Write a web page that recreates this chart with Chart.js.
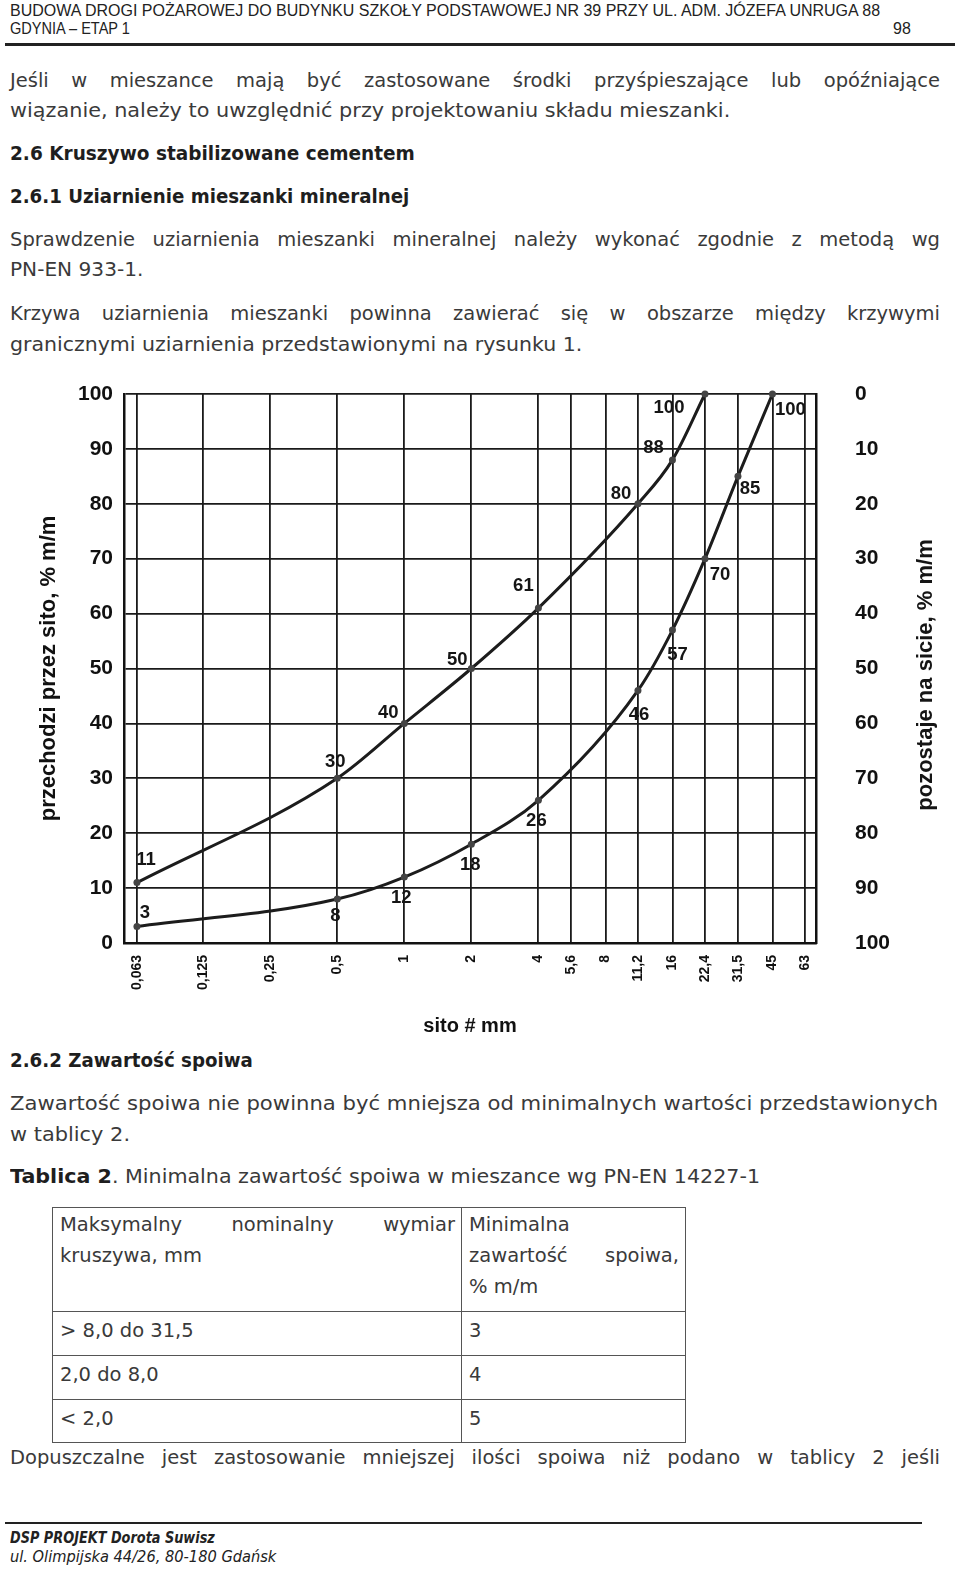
<!DOCTYPE html>
<html lang="pl">
<head>
<meta charset="utf-8">
<title>Krzywe graniczne uziarnienia</title>
<script src="https://cdn.jsdelivr.net/npm/chart.js@4.4.1/dist/chart.umd.min.js"></script>
<style>
html, body { margin: 0; padding: 0; background: #fff; }
body { width: 960px; height: 1572px; position: relative; overflow: hidden;
       font-family: "DejaVu Sans", sans-serif; color: #3a3a3a; }
.t { position: absolute; left: 10px; white-space: nowrap; font-size: 19.5px; line-height: 24px;
     transform-origin: 0 50%; }
.j { width: 930px; text-align: justify; text-align-last: justify; white-space: normal; }
.b { font-weight: bold; color: #1e1e1e; }
.hdr { font-family: "Liberation Sans", Arial, sans-serif; font-size: 16px; line-height: 18px; color: #222; }
.foot { font-size: 15px; line-height: 18px; font-style: italic; color: #222; }
.rule { position: absolute; background: #222; }
#chartBox { position: absolute; left: 0; top: 375px; width: 960px; height: 665px; }
#tab { position: absolute; left: 52px; top: 1207px; border-collapse: collapse; font-size: 19.5px; line-height: 31px; }
#tab td { border: 1.5px solid #555; vertical-align: top; padding: 3px 6px 0 7px; white-space: nowrap; }
#tab tr:first-child td { padding-top: 1px; }
#tab .jl { text-align: justify; text-align-last: justify; white-space: normal; }
</style>
</head>
<body>

<div class="t hdr" style="top:2px" data-w="870">BUDOWA DROGI POŻAROWEJ DO BUDYNKU SZKOŁY PODSTAWOWEJ NR 39 PRZY UL. ADM. JÓZEFA UNRUGA 88</div>
<div class="t hdr" style="top:20px" data-w="120">GDYNIA – ETAP 1</div>
<div class="t hdr" style="top:20px; left:893px">98</div>
<div class="rule" style="left:5px; top:43px; width:950px; height:2.5px"></div>

<div class="t j" style="top:69px">Jeśli w mieszance mają być zastosowane środki przyśpieszające lub opóźniające</div>
<div class="t" style="top:99px" data-w="720">wiązanie, należy to uwzględnić przy projektowaniu składu mieszanki.</div>
<div class="t b" style="top:142px" data-w="405">2.6 Kruszywo stabilizowane cementem</div>
<div class="t b" style="top:185px" data-w="399">2.6.1 Uziarnienie mieszanki mineralnej</div>
<div class="t j" style="top:228px">Sprawdzenie uziarnienia mieszanki mineralnej należy wykonać zgodnie z metodą wg</div>
<div class="t" style="top:258px" data-w="133">PN-EN 933-1.</div>
<div class="t j" style="top:302px">Krzywa uziarnienia mieszanki powinna zawierać się w obszarze między krzywymi</div>
<div class="t" style="top:333px" data-w="572">granicznymi uziarnienia przedstawionymi na rysunku 1.</div>

<div id="chartBox"><canvas id="grading"></canvas></div>

<div class="t b" style="top:1049px" data-w="243">2.6.2 Zawartość spoiwa</div>
<div class="t" style="top:1092px" data-w="928">Zawartość spoiwa nie powinna być mniejsza od minimalnych wartości przedstawionych</div>
<div class="t" style="top:1123px" data-w="120">w tablicy 2.</div>
<div class="t" style="top:1165px" data-w="750"><span class="b">Tablica 2</span>. Minimalna zawartość spoiwa w mieszance wg PN-EN 14227-1</div>

<table id="tab">
  <tr style="height:104px">
    <td style="width:395px"><div class="jl">Maksymalny nominalny wymiar</div><div>kruszywa, mm</div></td>
    <td style="width:210px"><div>Minimalna</div><div class="jl">zawartość spoiwa,</div><div>% m/m</div></td>
  </tr>
  <tr style="height:44px"><td>&gt; 8,0 do 31,5</td><td>3</td></tr>
  <tr style="height:44px"><td>2,0 do 8,0</td><td>4</td></tr>
  <tr style="height:43px"><td>&lt; 2,0</td><td>5</td></tr>
</table>

<div class="t j" style="top:1446px">Dopuszczalne jest zastosowanie mniejszej ilości spoiwa niż podano w tablicy 2 jeśli</div>

<div class="rule" style="left:5px; top:1522px; width:917px; height:2px"></div>
<div class="t foot b" style="top:1529px" data-w="205">DSP PROJEKT Dorota Suwisz</div>
<div class="t foot" style="top:1548px" data-w="266">ul. Olimpijska 44/26, 80-180 Gdańsk</div>

<script>
// sita, mm
const sieveSizes = [0.063, 0.125, 0.25, 0.5, 1, 2, 4, 5.6, 8, 11.2, 16, 22.4, 31.5, 45, 63];
const sieveLabels = ['0,063', '0,125', '0,25', '0,5', '1', '2', '4', '5,6', '8', '11,2', '16', '22,4', '31,5', '45', '63'];

// gorna krzywa graniczna (przechodzi przez sito, %)
const upperSieves = [0.063, 0.5, 1, 2, 4, 11.2, 16, 22.4];
const upperPassing = [11, 30, 40, 50, 61, 80, 88, 100];

// dolna krzywa graniczna
const lowerSieves = [0.063, 0.5, 1, 2, 4, 11.2, 16, 22.4, 31.5, 45];
const lowerPassing = [3, 8, 12, 18, 26, 46, 57, 70, 85, 100];

// przesuniecie opisow punktow [dx, dy] w px
const upperLabelOffsets = [[9, -23], [-2, -16], [-16, -10], [-14, -9], [-15, -22], [-17, -10], [-19, -12], [-36, 14]];
const lowerLabelOffsets = [[8, -14], [-2, 17], [-3, 21], [-1, 21], [-2, 21], [1, 24], [5, 25], [15, 16], [12, 13], [18, 16]];

// dopasowanie szerokosci linii tekstu
document.querySelectorAll('[data-w]').forEach(el => {
    const w = parseFloat(el.dataset.w);
    el.style.transform = 'scaleX(' + (w / el.offsetWidth) + ')';
});

const boldFont = size => ({ family: 'Liberation Sans', size: size, weight: 'bold' });

const pointLabels = {
    id: 'pointLabels',
    afterDatasetsDraw(chart) {
        const ctx = chart.ctx;
        const offsets = [upperLabelOffsets, lowerLabelOffsets];
        ctx.save();
        ctx.font = 'bold 18.5px "Liberation Sans"';
        ctx.fillStyle = '#151515';
        ctx.textAlign = 'center';
        ctx.textBaseline = 'middle';
        chart.data.datasets.forEach((ds, di) => {
            chart.getDatasetMeta(di).data.forEach((pt, i) => {
                ctx.fillText(String(ds.data[i].y), pt.x + offsets[di][i][0], pt.y + offsets[di][i][1]);
            });
        });
        // tytul prawej osi (czytany od dolu)
        ctx.font = 'bold 22px "Liberation Sans"';
        ctx.translate(926, chart.chartArea.top + 281);
        ctx.rotate(-Math.PI / 2);
        ctx.fillText('pozostaje na sicie, % m/m', 0, 0);
        ctx.restore();
    }
};

const lineStyle = {
    borderColor: '#1c1c1c',
    borderWidth: 3,
    cubicInterpolationMode: 'monotone',
    pointRadius: 3.5,
    pointBackgroundColor: '#444',
    pointBorderColor: '#444',
    pointBorderWidth: 0,
    clip: 10
};
const borderStyle = { color: '#111', width: 2.5 };

const chart = new Chart(document.getElementById('grading'), {
    type: 'line',
    data: {
        datasets: [Object.assign({
            label: 'górna krzywa',
            data: upperSieves.map((s, i) => ({ x: s, y: upperPassing[i] }))
        }, lineStyle), Object.assign({
            label: 'dolna krzywa',
            data: lowerSieves.map((s, i) => ({ x: s, y: lowerPassing[i] }))
        }, lineStyle)]
    },
    options: {
        responsive: true,
        maintainAspectRatio: false,
        animation: false,
        layout: { padding: { top: 19, left: 0, right: 0, bottom: 0 } },
        plugins: { legend: { display: false }, tooltip: { enabled: false }, colors: { enabled: false } },
        scales: {
            x: {
                type: 'logarithmic',
                min: 0.0551,
                max: 70.6,
                afterBuildTicks: s => { s.ticks = sieveSizes.map(v => ({ value: v })); },
                afterFit: s => { s.height = 97; },
                grid: { color: '#1a1a1a', lineWidth: 1.8, drawTicks: false },
                border: borderStyle,
                ticks: {
                    autoSkip: false,
                    minRotation: 90,
                    maxRotation: 90,
                    padding: 12,
                    color: '#111',
                    font: boldFont(14),
                    callback: (v, i) => sieveLabels[i]
                },
                title: { display: true, text: 'sito # mm', color: '#111', font: boldFont(20), padding: { top: 0, bottom: 2 } }
            },
            y: {
                position: 'left',
                min: 0,
                max: 100,
                afterFit: s => { s.width = 124; },
                grid: { color: '#1a1a1a', lineWidth: 1.8, drawTicks: true, tickLength: 5, tickColor: 'rgba(0,0,0,0)' },
                border: borderStyle,
                ticks: { stepSize: 10, padding: 6, color: '#111', font: boldFont(21) },
                title: { display: true, text: 'przechodzi przez sito, % m/m', color: '#111', font: boldFont(22), padding: { top: 36, bottom: 0 } }
            },
            y2: {
                position: 'right',
                min: 0,
                max: 100,
                reverse: true,
                afterFit: s => { s.width = 144; },
                grid: { display: true, drawOnChartArea: false, drawTicks: true, tickLength: 33, tickColor: 'rgba(0,0,0,0)' },
                border: borderStyle,
                ticks: { stepSize: 10, padding: 6, color: '#111', font: boldFont(21) }
            }
        }
    },
    plugins: [pointLabels]
});
</script>
</body>
</html>
